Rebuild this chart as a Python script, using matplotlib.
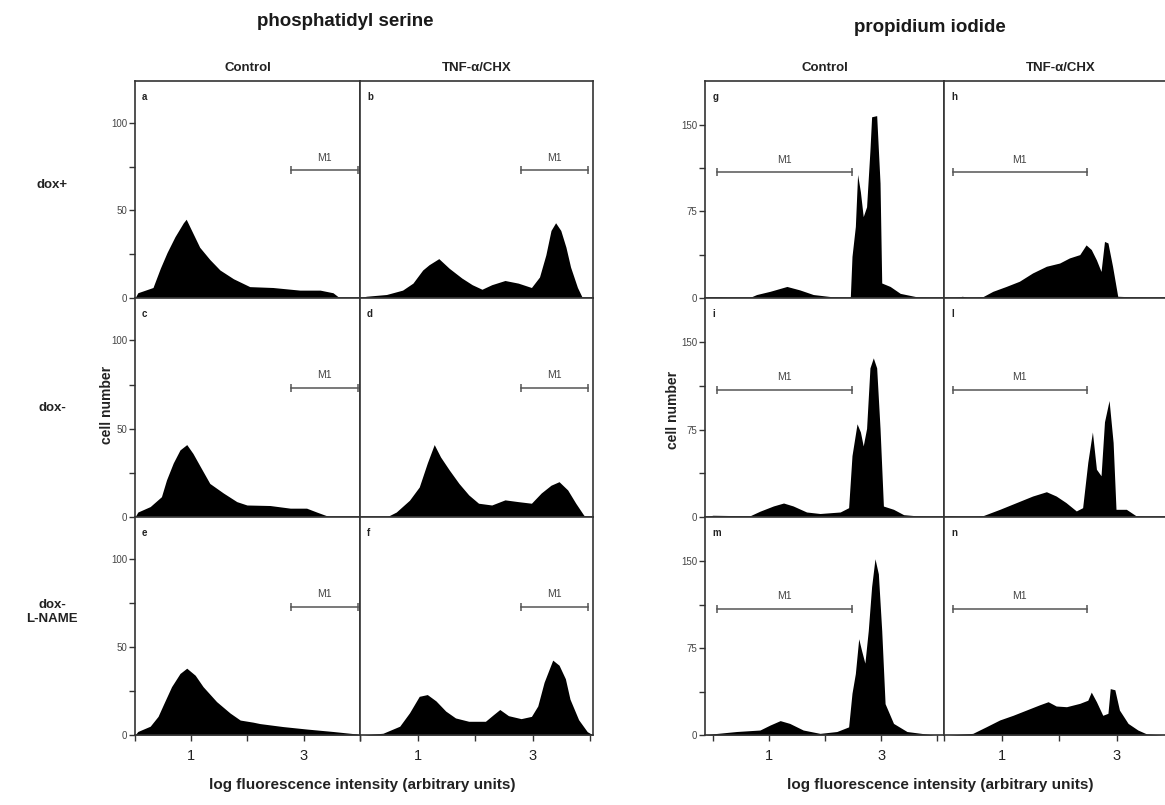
import matplotlib
matplotlib.use('Agg')
import matplotlib.pyplot as plt

plt.rcParams['font.family'] = ['Liberation Sans', 'DejaVu Sans']

# ---- phosphatidyl serine histograms (x = log fluorescence, y = cell number) ----
ps_a_x = [0.0, 0.05, 0.32, 0.45, 0.57, 0.71, 0.86, 0.91, 1.03, 1.15, 1.33, 1.51, 1.75, 2.04, 2.45, 2.93, 3.29, 3.52, 3.64, 4.0]
ps_a_y = [0, 3, 6, 17, 26, 35, 43, 45, 37, 29, 22, 16, 11, 6.5, 6, 4.5, 4.5, 3, 0, 0]
ps_b_x = [0.0, 0.11, 0.46, 0.74, 0.92, 1.09, 1.2, 1.37, 1.55, 1.77, 1.95, 2.12, 2.29, 2.52, 2.75, 2.98, 3.12, 3.23, 3.32, 3.4, 3.49, 3.58, 3.66, 3.78, 3.86, 4.05]
ps_b_y = [0, 1, 2, 4.5, 8.5, 16, 19, 22.5, 17, 11.4, 7.6, 5, 7.6, 10, 8.5, 6, 12, 24.6, 38.6, 43, 38.6, 29, 17.7, 6, 0.5, 0]
ps_c_x = [0.0, 0.05, 0.27, 0.47, 0.56, 0.68, 0.8, 0.92, 1.03, 1.16, 1.33, 1.57, 1.81, 1.99, 2.4, 2.76, 3.05, 3.23, 3.47, 4.0]
ps_c_y = [0, 2.8, 5.9, 11.5, 21, 30.6, 38, 41, 36, 28.6, 19, 13.6, 8.7, 6.8, 6.5, 5, 5, 2.8, 0, 0]
ps_d_x = [0.0, 0.46, 0.63, 0.86, 1.03, 1.17, 1.29, 1.4, 1.55, 1.72, 1.89, 2.06, 2.29, 2.52, 2.75, 2.98, 3.15, 3.32, 3.46, 3.61, 3.75, 3.89, 3.95, 4.05]
ps_d_y = [0, 0, 2.8, 9.5, 17, 30.6, 41, 34, 26.7, 19, 12.5, 7.8, 6.8, 9.7, 8.7, 7.8, 13.6, 18, 20, 15.3, 7.8, 1, 0, 0]
ps_e_x = [0.0, 0.05, 0.27, 0.41, 0.5, 0.65, 0.8, 0.92, 1.07, 1.21, 1.45, 1.69, 1.87, 2.1, 2.22, 2.63, 3.05, 3.52, 3.94, 4.0]
ps_e_y = [0, 2, 5, 10.6, 17, 27.5, 35, 38, 34, 27.5, 19, 12.5, 8.5, 7.3, 6.5, 4.8, 3.4, 2, 0.6, 0]
ps_f_x = [0.0, 0.05, 0.4, 0.69, 0.86, 1.03, 1.17, 1.32, 1.49, 1.66, 1.89, 2.18, 2.32, 2.43, 2.58, 2.8, 2.98, 3.09, 3.2, 3.35, 3.46, 3.57, 3.65, 3.8, 3.95, 4.05]
ps_f_y = [0, 0, 1, 5, 12.6, 22, 23, 19.4, 13.6, 9.7, 7.8, 7.8, 11.6, 14.5, 11, 9.3, 10.6, 16.5, 30, 42.6, 39.7, 32, 20.4, 8.7, 1.9, 0]

# ---- propidium iodide histograms ----
pi_g_x = [-0.14, -0.05, 0.12, 0.36, 0.66, 0.78, 1.02, 1.32, 1.55, 1.79, 2.14, 2.45, 2.48, 2.54, 2.58, 2.63, 2.68, 2.74, 2.8, 2.83, 2.92, 2.98, 3.01, 3.16, 3.34, 3.64, 4.05, 4.12]
pi_g_y = [0, 1, 1, 0, 0.5, 3, 5.8, 10, 7, 3, 1, 0.5, 36, 62, 107, 92, 70.5, 79, 128, 157, 158, 99.5, 13, 10, 4, 1, 0, 0]
pi_h_x = [0.0, 0.15, 0.32, 0.44, 0.67, 0.85, 1.08, 1.31, 1.54, 1.78, 2.01, 2.18, 2.36, 2.47, 2.56, 2.65, 2.73, 2.79, 2.85, 2.93, 3.02, 3.28, 3.75, 4.1]
pi_h_y = [0, 0, 1.5, 0, 1, 5.8, 10, 14.5, 21.7, 27.5, 30.3, 34.7, 37.6, 46, 42, 33, 23, 49, 47.7, 27.5, 1.5, 1, 0, 0]
pi_i_x = [-0.14, 0.0, 0.66, 0.84, 1.08, 1.26, 1.43, 1.67, 1.91, 2.27, 2.42, 2.48, 2.57, 2.63, 2.68, 2.74, 2.8, 2.86, 2.92, 2.98, 3.04, 3.22, 3.4, 3.64, 4.05, 4.12]
pi_i_y = [0, 1.5, 1, 5, 9.5, 12, 9.5, 4.3, 3, 4.3, 8, 52.7, 80, 73, 61, 76, 128, 136.6, 128, 76, 9.4, 6.6, 2, 1, 0, 0]
pi_l_x = [0.0, 0.1, 0.39, 0.67, 0.97, 1.26, 1.54, 1.78, 1.95, 2.12, 2.3, 2.41, 2.5, 2.58, 2.65, 2.73, 2.79, 2.87, 2.94, 2.99, 3.17, 3.34, 3.6, 4.1]
pi_l_y = [0, 1, 0, 1, 6.6, 12.4, 18, 21.7, 18, 12.4, 5.2, 8, 47, 73, 41, 35.4, 81.7, 100, 64, 6.6, 6.6, 1, 0, 0]
pi_m_x = [-0.14, 0.0, 0.42, 0.84, 1.02, 1.2, 1.37, 1.61, 1.91, 2.21, 2.42, 2.48, 2.54, 2.6, 2.65, 2.71, 2.77, 2.83, 2.89, 2.95, 3.01, 3.07, 3.22, 3.46, 3.94, 4.12]
pi_m_y = [0, 1, 3, 4.3, 8.6, 12.4, 10, 4.3, 1.4, 3, 7, 36, 53, 83, 73, 62, 90, 128, 152, 139, 90, 27, 10, 3, 0, 0]
pi_n_x = [0.0, 0.1, 0.5, 0.73, 0.97, 1.2, 1.43, 1.66, 1.81, 1.95, 2.13, 2.36, 2.5, 2.56, 2.65, 2.76, 2.85, 2.89, 2.97, 3.05, 3.2, 3.37, 3.52, 3.8, 4.1]
pi_n_y = [0, 0, 1.4, 7, 13, 17, 21.5, 26, 28.7, 25, 24.4, 27.3, 30, 37, 28.7, 17, 18.7, 40, 39, 21.5, 10, 4.3, 1, 0, 0]

ps_x = [[ps_a_x, ps_b_x], [ps_c_x, ps_d_x], [ps_e_x, ps_f_x]]
ps_y = [[ps_a_y, ps_b_y], [ps_c_y, ps_d_y], [ps_e_y, ps_f_y]]
pi_x = [[pi_g_x, pi_h_x], [pi_i_x, pi_l_x], [pi_m_x, pi_n_x]]
pi_y = [[pi_g_y, pi_h_y], [pi_i_y, pi_l_y], [pi_m_y, pi_n_y]]
ps_letters = [['a', 'b'], ['c', 'd'], ['e', 'f']]
pi_letters = [['g', 'h'], ['i', 'l'], ['m', 'n']]

# M1 marker ranges (x start, x end) and level
ps_m1 = [[2.78, 3.96], [2.80, 3.96]]
ps_m1_level = 73
pi_m1 = [[0.08, 2.48], [0.15, 2.48]]
pi_m1_level = 109

col_titles = ['Control', 'TNF-\u03b1/CHX']
row_labels = ['dox+', 'dox-', 'dox-\nL-NAME']

W, H = 1165, 805
fig = plt.figure(figsize=(W / 100, H / 100), dpi=100)

row_px = [(81, 298), (298, 517), (517, 735)]
ps_cols = [(135, 360), (360, 593)]
pi_cols = [(705, 944), (944, 1181)]
ps_xlim = [(0, 4), (0, 4.05)]
pi_xlim = [(-0.14, 4.12), (0, 4.12)]

edge = '#333333'
tcol = '#444444'


def make_ax(cx, ry):
    l, r = cx
    t, b = ry
    return fig.add_axes([l / W, 1 - b / H, (r - l) / W, (b - t) / H])


def draw_group(cols, xlim, xs, ys, letters, m1, m1_level, ylim, yt, ytm):
    for i in range(3):
        for j in range(2):
            ax = make_ax(cols[j], row_px[i])
            ax.fill_between(xs[i][j], ys[i][j], 0, color='black', lw=0)
            ax.set_xlim(*xlim[j])
            ax.set_ylim(0, ylim)
            for s in ax.spines.values():
                s.set_color(edge)
                s.set_linewidth(1.2)
            ax.text(0.03, 0.95, letters[i][j], transform=ax.transAxes, fontsize=7,
                    fontweight='bold', color='#222222', va='top', ha='left')
            x0, x1 = m1[j]
            ax.plot([x0, x1], [m1_level, m1_level], color='#555555', lw=1.1,
                    marker='|', markersize=6, markeredgewidth=1.1)
            ax.text((x0 + x1) / 2, m1_level + ylim * 0.035, 'M1', ha='center', va='bottom',
                    fontsize=7.5, color='#444444')
            if j == 0:
                ax.set_yticks(yt)
                ax.set_yticks(ytm, minor=True)
                ax.set_yticklabels([str(v) for v in yt], fontsize=7, color=tcol)
                ax.tick_params(axis='y', which='both', direction='out', length=4,
                               width=1, color=edge, pad=1.5)
            else:
                ax.set_yticks([])
            if i == 2:
                ax.set_xticks([1, 3])
                ax.set_xticks([0, 2, 4], minor=True)
                ax.set_xticklabels(['1', '3'], fontsize=10.5, color='#222222')
                ax.tick_params(axis='x', which='both', direction='out', length=4,
                               width=1, color=edge, pad=6)
            else:
                ax.set_xticks([])


draw_group(ps_cols, ps_xlim, ps_x, ps_y, ps_letters, ps_m1, ps_m1_level, 124,
           [0, 50, 100], [25, 75])
draw_group(pi_cols, pi_xlim, pi_x, pi_y, pi_letters, pi_m1, pi_m1_level, 188,
           [0, 75, 150], [37.5, 112.5])

# group titles
fig.text(345 / W, 1 - 22 / H, 'phosphatidyl serine', ha='center', va='center',
         fontsize=13.5, fontweight='bold', color='#1a1a1a')
fig.text(930 / W, 1 - 27 / H, 'propidium iodide', ha='center', va='center',
         fontsize=13.5, fontweight='bold', color='#1a1a1a')

for cols in (ps_cols, pi_cols):
    for j, (l, r) in enumerate(cols):
        cx = (l + r) / 2 if r < W else (l + 1178) / 2
        fig.text(cx / W, 1 - 68 / H, col_titles[j], ha='center', va='center',
                 fontsize=9.5, fontweight='bold', color='#222222')

row_y = [185, 408, 612]
for lab, yy in zip(row_labels, row_y):
    fig.text(52 / W, 1 - yy / H, lab, ha='center', va='center', fontsize=9.5,
             fontweight='bold', color='#222222', linespacing=1.3)

fig.text(107 / W, 1 - 405 / H, 'cell number', rotation=90, ha='center', va='center',
         fontsize=10, fontweight='bold', color='#222222')
fig.text(673 / W, 1 - 410 / H, 'cell number', rotation=90, ha='center', va='center',
         fontsize=10, fontweight='bold', color='#222222')

xlab = 'log fluorescence intensity (arbitrary units)'
fig.text(362 / W, 1 - 785 / H, xlab, ha='center', va='center', fontsize=11,
         fontweight='bold', color='#222222')
fig.text(940 / W, 1 - 785 / H, xlab, ha='center', va='center', fontsize=11,
         fontweight='bold', color='#222222')

fig.savefig('out.png', dpi=100)
